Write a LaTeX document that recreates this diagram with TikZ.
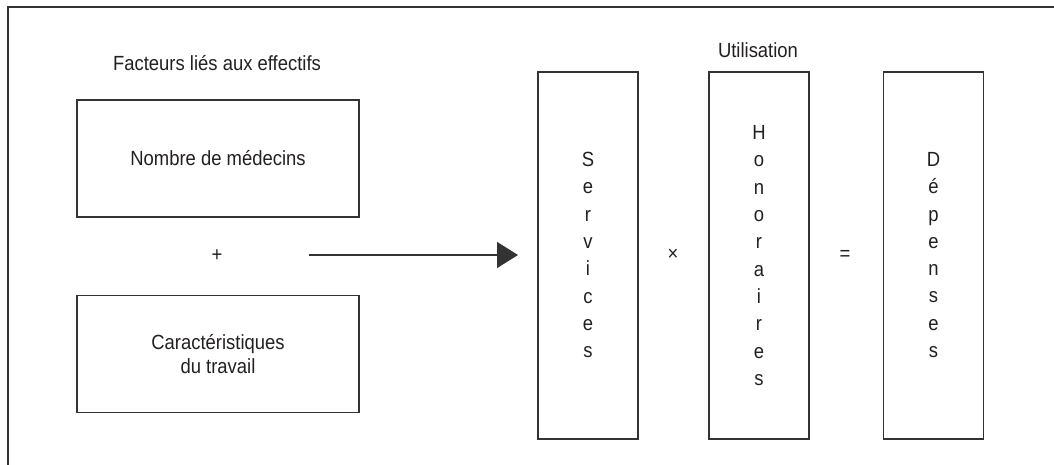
\documentclass[tikz,border=0pt]{standalone}
\usepackage{fontspec}
\setmainfont[FakeStretch=0.9]{Liberation Sans}
\usetikzlibrary{arrows.meta}
\definecolor{ink}{HTML}{231F20}
\definecolor{linec}{HTML}{333333}
\begin{document}
\begin{tikzpicture}[x=1pt,y=-1pt,
  every node/.style={text=ink,font=\fontsize{20.5}{27.3}\selectfont},
  hbox/.style={draw=linec,line width=1.4pt,minimum width=282pt,minimum height=117pt,inner sep=0pt,align=center},
  vbox/.style={draw=linec,line width=1.4pt,minimum width=100pt,minimum height=367pt,inner sep=0pt},
  vtext/.style={align=center,inner sep=0pt},
  sym/.style={inner sep=0pt}]
\useasboundingbox (0,0) rectangle (1054,465);
% frame
\coordinate (frTR) at (1060,7);
\coordinate (frTL) at (8,7);
\coordinate (frBL) at (8,470);
\draw[linec,line width=1.6pt] (frTR) -- (frTL) -- (frBL);
% left part
\node (facteurs) at (217,63) {Facteurs liés aux effectifs};
\node[hbox] (nombre) at (218,158.5) {Nombre de médecins};
\node[sym] (plus) at (217,256) {+};
\node[hbox] (carac) at (218,354) {Caractéristiques\\[-3pt]du travail};
% right part
\node (util) at (758,50) {Utilisation};
\node[vbox] (serv) at (588,255.5) {};
\node[vbox] (hono) at (759,255.5) {};
\node[vbox] (dep) at (933.5,255.5) {};
\node[vtext] (servt) at (588,255) {S\\e\\r\\v\\i\\c\\e\\s};
\node[vtext] (honot) at (759,255.5) {H\\o\\n\\o\\r\\a\\i\\r\\e\\s};
\node[vtext] (dept) at (933.5,255) {D\\é\\p\\e\\n\\s\\e\\s};
\node[sym] (times) at (673,255) {×};
\node[sym] (equal) at (845,255) {=};
% arrow
\coordinate (arrS) at (309,255);
\coordinate (arrE) at (518,255);
\draw[linec,line width=1.3pt,-{Triangle[length=21pt,width=26pt]}] (arrS) -- (arrE);
\end{tikzpicture}
\end{document}
